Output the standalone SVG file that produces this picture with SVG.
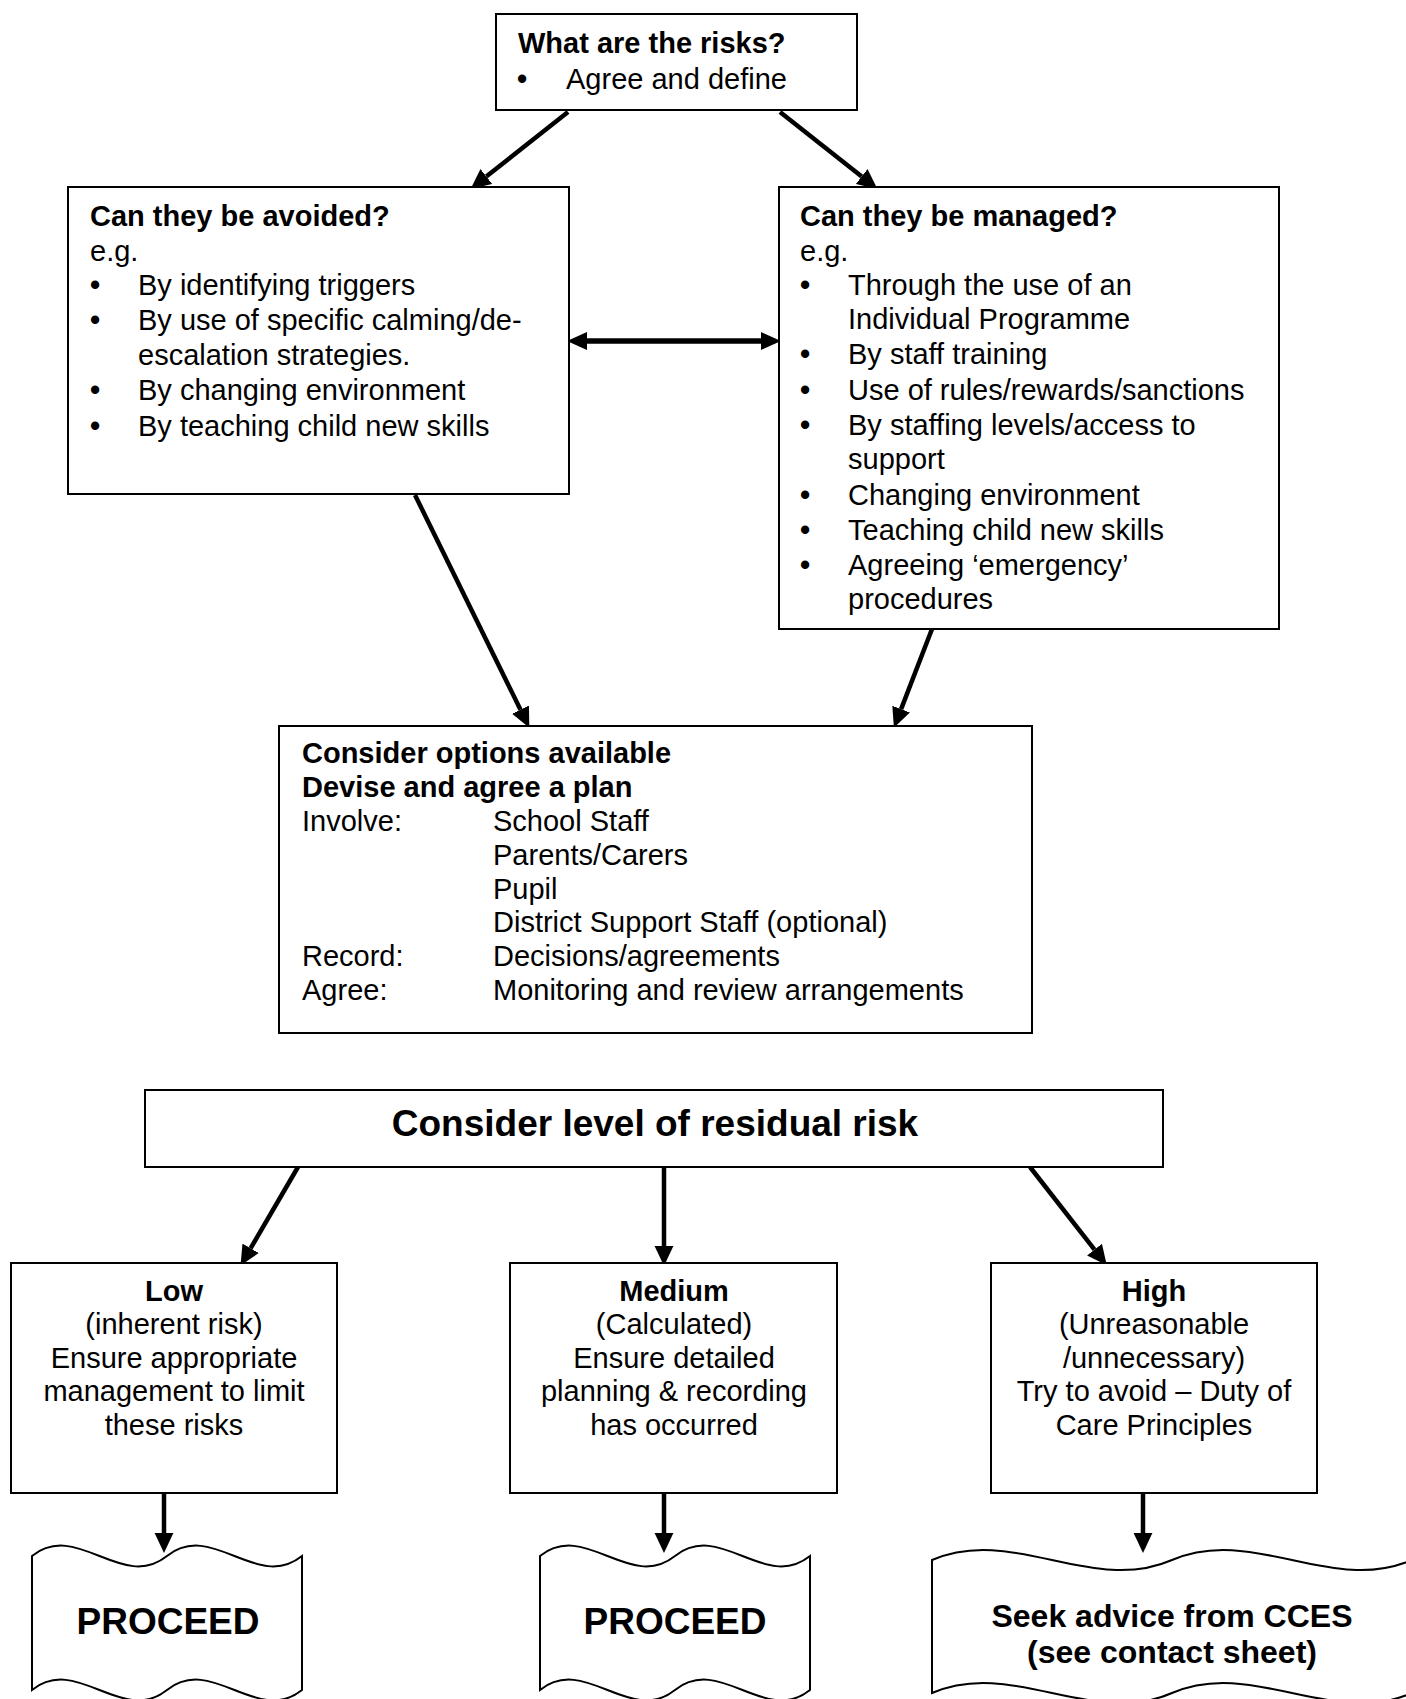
<svg xmlns="http://www.w3.org/2000/svg" width="1406" height="1699" viewBox="0 0 1406 1699">
<style>
.box{fill:#fff;stroke:#000;stroke-width:2}
.t{font-family:"Liberation Sans",Arial,sans-serif;font-size:29px;fill:#000}
.b{font-weight:bold}
.c{text-anchor:middle}
.bu{text-anchor:middle;font-weight:bold}
.big{font-size:37px}
.adv{font-size:32px}
.con{fill:none;stroke:#000;stroke-width:4.5}
.dbl{stroke-width:5.5}
</style>
<defs>
<marker id="ah" markerUnits="userSpaceOnUse" markerWidth="20" markerHeight="20" refX="0" refY="8" orient="auto" viewBox="0 0 17 16">
<path d="M0,0 L17,8 L0,16 Z" fill="#000"/>
</marker>
<marker id="ah2" markerUnits="userSpaceOnUse" markerWidth="20" markerHeight="20" refX="0" refY="8" orient="auto-start-reverse" viewBox="0 0 18 16">
<path d="M0,0 L18,8 L0,16 Z" fill="#000"/>
</marker>
</defs>

<g id="connectors">
<line class="con" x1="568" y1="112" x2="486.3" y2="176.5" marker-end="url(#ah)"/>
<line class="con" x1="780" y1="112" x2="861.7" y2="176.5" marker-end="url(#ah)"/>
<line class="con dbl" x1="587" y1="341" x2="761" y2="341" marker-start="url(#ah2)" marker-end="url(#ah2)"/>
<line class="con" x1="415" y1="495" x2="520.5" y2="709.7" marker-end="url(#ah)"/>
<line class="con" x1="932" y1="629" x2="901.1" y2="709.1" marker-end="url(#ah)"/>
<line class="con" x1="298" y1="1167" x2="250.6" y2="1248.3" marker-end="url(#ah)"/>
<line class="con" x1="664" y1="1167" x2="664" y2="1246" marker-end="url(#ah)"/>
<line class="con" x1="1030" y1="1167" x2="1094.5" y2="1249.6" marker-end="url(#ah)"/>
<line class="con" x1="164" y1="1493" x2="164" y2="1533" marker-end="url(#ah)"/>
<line class="con" x1="664" y1="1493" x2="664" y2="1533" marker-end="url(#ah)"/>
<line class="con" x1="1143" y1="1493" x2="1143" y2="1533" marker-end="url(#ah)"/>
</g>

<g id="risks">
<rect class="box" x="496" y="14" width="361" height="96"/>
<text class="t b" x="518" y="53">What are the risks?</text>
<text class="t bu" x="522" y="89">•</text>
<text class="t" x="566" y="89">Agree and define</text>
</g>

<g id="avoided">
<rect class="box" x="68" y="187" width="501" height="307"/>
<text class="t b" x="90" y="226">Can they be avoided?</text>
<text class="t" x="90" y="261">e.g.</text>
<text class="t bu" x="95" y="295">•</text>
<text class="t" x="138" y="295">By identifying triggers</text>
<text class="t bu" x="95" y="330">•</text>
<text class="t" x="138" y="330">By use of specific calming/de-</text>
<text class="t" x="138" y="365">escalation strategies.</text>
<text class="t bu" x="95" y="400">•</text>
<text class="t" x="138" y="400">By changing environment</text>
<text class="t bu" x="95" y="436">•</text>
<text class="t" x="138" y="436">By teaching child new skills</text>
</g>

<g id="managed">
<rect class="box" x="779" y="187" width="500" height="442"/>
<text class="t b" x="800" y="226">Can they be managed?</text>
<text class="t" x="800" y="261">e.g.</text>
<text class="t bu" x="805" y="295">•</text>
<text class="t" x="848" y="295">Through the use of an</text>
<text class="t" x="848" y="329">Individual Programme</text>
<text class="t bu" x="805" y="364">•</text>
<text class="t" x="848" y="364">By staff training</text>
<text class="t bu" x="805" y="400">•</text>
<text class="t" x="848" y="400">Use of rules/rewards/sanctions</text>
<text class="t bu" x="805" y="435">•</text>
<text class="t" x="848" y="435">By staffing levels/access to</text>
<text class="t" x="848" y="469">support</text>
<text class="t bu" x="805" y="505">•</text>
<text class="t" x="848" y="505">Changing environment</text>
<text class="t bu" x="805" y="540">•</text>
<text class="t" x="848" y="540">Teaching child new skills</text>
<text class="t bu" x="805" y="575">•</text>
<text class="t" x="848" y="575">Agreeing ‘emergency’</text>
<text class="t" x="848" y="609">procedures</text>
</g>

<g id="options">
<rect class="box" x="279" y="726" width="753" height="307"/>
<text class="t b" x="302" y="763">Consider options available</text>
<text class="t b" x="302" y="797">Devise and agree a plan</text>
<text class="t" x="302" y="831">Involve:</text>
<text class="t" x="493" y="831">School Staff</text>
<text class="t" x="493" y="865">Parents/Carers</text>
<text class="t" x="493" y="899">Pupil</text>
<text class="t" x="493" y="932">District Support Staff (optional)</text>
<text class="t" x="302" y="966">Record:</text>
<text class="t" x="493" y="966">Decisions/agreements</text>
<text class="t" x="302" y="1000">Agree:</text>
<text class="t" x="493" y="1000">Monitoring and review arrangements</text>
</g>

<g id="residual">
<rect class="box" x="145" y="1090" width="1018" height="77"/>
<text class="t b c big" x="655" y="1136">Consider level of residual risk</text>
</g>

<g id="low">
<rect class="box" x="11" y="1263" width="326" height="230"/>
<text class="t b c" x="174" y="1301">Low</text>
<text class="t c" x="174" y="1334">(inherent risk)</text>
<text class="t c" x="174" y="1368">Ensure appropriate</text>
<text class="t c" x="174" y="1401">management to limit</text>
<text class="t c" x="174" y="1435">these risks</text>
</g>

<g id="medium">
<rect class="box" x="510" y="1263" width="327" height="230"/>
<text class="t b c" x="674" y="1301">Medium</text>
<text class="t c" x="674" y="1334">(Calculated)</text>
<text class="t c" x="674" y="1368">Ensure detailed</text>
<text class="t c" x="674" y="1401">planning &amp; recording</text>
<text class="t c" x="674" y="1435">has occurred</text>
</g>

<g id="high">
<rect class="box" x="991" y="1263" width="326" height="230"/>
<text class="t b c" x="1154" y="1301">High</text>
<text class="t c" x="1154" y="1334">(Unreasonable</text>
<text class="t c" x="1154" y="1368">/unnecessary)</text>
<text class="t c" x="1154" y="1401">Try to avoid – Duty of</text>
<text class="t c" x="1154" y="1435">Care Principles</text>
</g>

<g id="proceed-low">
<path class="box" d="M32,1556 C77,1520 122,1592 167,1556 C212,1520 257,1592 302,1556 L302,1690 C257,1726 212,1654 167,1690 C122,1726 77,1654 32,1690 Z"/>
<text class="t b c big" x="168" y="1634">PROCEED</text>
</g>

<g id="proceed-medium">
<path class="box" d="M540,1556 C585,1520 630,1592 675,1556 C720,1520 765,1592 810,1556 L810,1690 C765,1726 720,1654 675,1690 C630,1726 585,1654 540,1690 Z"/>
<text class="t b c big" x="675" y="1634">PROCEED</text>
</g>

<g id="seek-advice">
<path class="box" d="M932,1560 C1012,1525 1092,1595 1172,1560 C1252,1525 1332,1595 1412,1560 L1412,1693 C1332,1728 1252,1658 1172,1693 C1092,1728 1012,1658 932,1693 Z"/>
<text class="t b c adv" x="1172" y="1627">Seek advice from CCES</text>
<text class="t b c adv" x="1172" y="1663">(see contact sheet)</text>
</g>
</svg>
